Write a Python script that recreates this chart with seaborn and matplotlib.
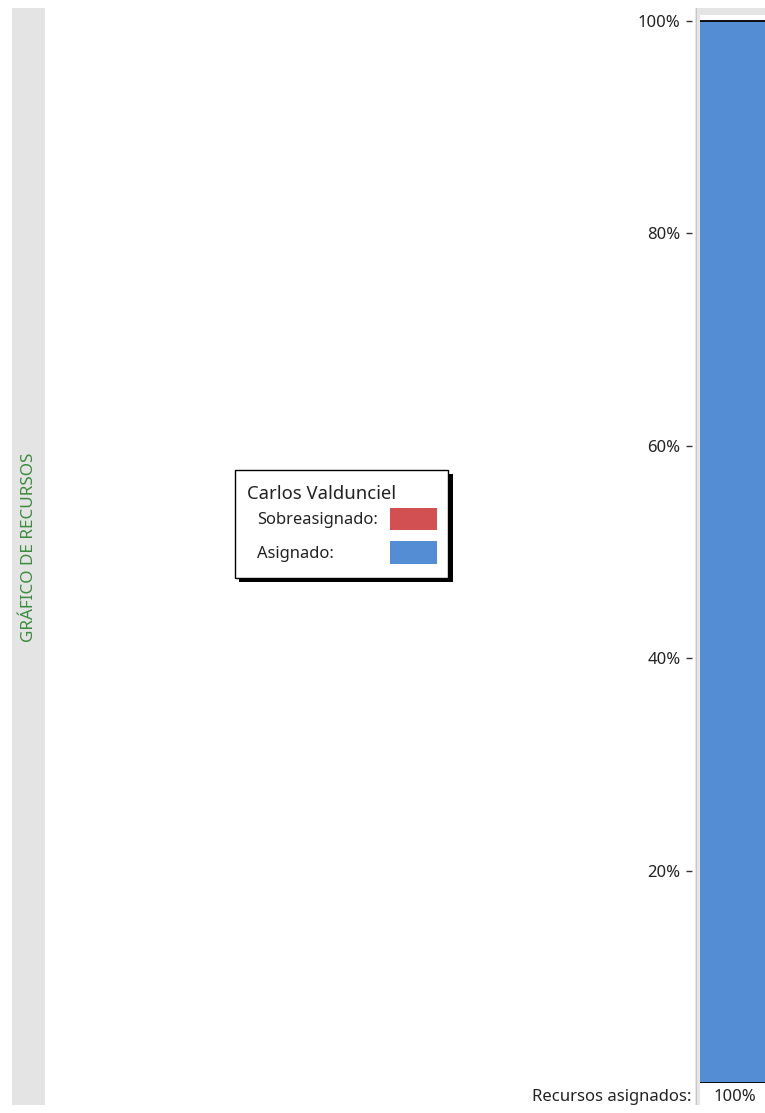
import matplotlib
matplotlib.use("Agg")
import matplotlib.pyplot as plt
from matplotlib.patches import Rectangle
import seaborn as sns

# ---- data ----
resource = ["Carlos Valdunciel"]
asignado = [1.0]
sobreasignado = [0.0]
ytick_values = [0.2, 0.4, 0.6, 0.8, 1.0]
ytick_labels = ["20%", "40%", "60%", "80%", "100%"]
bottom_label = "Recursos asignados:"
bottom_value = "100%"
side_title = "GRÁFICO DE RECURSOS"
legend_labels = ["Sobreasignado:", "Asignado:"]

BLUE = "#548DD4"
RED = "#D25051"
GRAY = "#E4E4E4"
GREEN = "#3C8C3C"
TXT = "#222222"

sns.set_theme(style="white")
plt.rcParams["font.family"] = ["Noto Sans", "DejaVu Sans"]

W, H = 765, 1113
fig = plt.figure(figsize=(W / 100, H / 100), dpi=100)
fig.patch.set_facecolor("white")


def fr(x0, y0, x1, y1):
    return (x0 / W, 1 - y1 / H, (x1 - x0) / W, (y1 - y0) / H)


def addrect(x0, y0, x1, y1, **kw):
    l, b, w, h = fr(x0, y0, x1, y1)
    fig.patches.append(Rectangle((l, b), w, h, transform=fig.transFigure, **kw))


# left gray band with title
addrect(12, 8, 45, 1105, facecolor=GRAY, edgecolor="none")
fig.text(29 / W, 1 - 547 / H, side_title, rotation=90, ha="center", va="center",
         color=GREEN, fontsize=12.3, fontweight="semibold")

# separator and top strip
addrect(695, 8, 700, 1105, facecolor="#E6E6E6", edgecolor="none")
addrect(696, 8, 697.2, 1105, facecolor="#C8C8C8", edgecolor="none")
addrect(700, 8, 765, 15, facecolor=GRAY, edgecolor="none")

# main bar axes
ax = fig.add_axes(fr(700, 15, 766, 1083))
sns.barplot(x=resource, y=asignado, color=BLUE, width=1.0, saturation=1,
            ax=ax, edgecolor="none")
sns.barplot(x=resource, y=sobreasignado, color=RED, width=1.0, saturation=1,
            ax=ax, edgecolor="none", bottom=asignado)
ax.set_xlim(-0.5, 0.5)
ax.set_ylim(0, 1.0057)
ax.axhline(1.0, color="black", lw=1.3)
ax.axhline(0.0, color="black", lw=1.3)
ax.set_xlabel("")
ax.set_ylabel("")
ax.set_xticks([])
ax.set_yticks(ytick_values)
ax.set_yticklabels(ytick_labels)
for s in ["top", "right", "bottom"]:
    ax.spines[s].set_visible(False)
ax.spines["left"].set_position(("outward", 6))
ax.spines["left"].set_visible(False)
ax.tick_params(axis="y", which="major", left=True, length=4, width=1.0,
               color="#333333", pad=4, labelsize=12, labelcolor=TXT, direction="out")
ax.patch.set_alpha(0)

# bottom row
fig.text(691 / W, 1 - 1097 / H, bottom_label, ha="right", va="center",
         fontsize=12, color=TXT)
fig.text(735 / W, 1 - 1097 / H, bottom_value, ha="center", va="center",
         fontsize=12, color=TXT)

# legend box
addrect(239, 474, 453, 582, facecolor="black", edgecolor="none")
addrect(235, 470, 448, 578, facecolor="white", edgecolor="black", linewidth=1)
fig.text(247 / W, 1 - 494 / H, resource[0], ha="left", va="center",
         fontsize=13.3, color=TXT)
fig.text(257 / W, 1 - 520 / H, legend_labels[0], ha="left", va="center",
         fontsize=11.9, color=TXT)
fig.text(257 / W, 1 - 554 / H, legend_labels[1], ha="left", va="center",
         fontsize=11.9, color=TXT)
addrect(390, 508, 437, 530, facecolor=RED, edgecolor="none")
addrect(390, 541, 437, 564, facecolor=BLUE, edgecolor="none")

fig.savefig("out.png", dpi=100)
